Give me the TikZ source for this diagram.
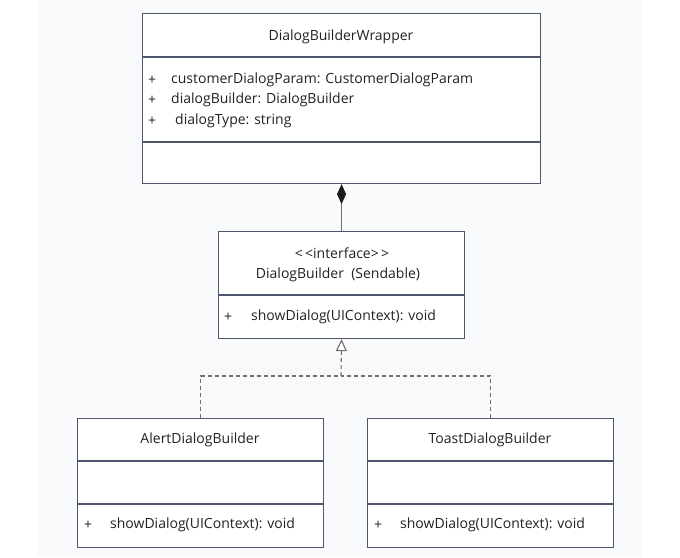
\documentclass[tikz,border=0pt]{standalone}
\usepackage{fontspec}
\setmainfont{Open Sans}
\usetikzlibrary{arrows.meta}
\definecolor{bg}{HTML}{F9FAFC}
\definecolor{boxline}{HTML}{50556E}
\definecolor{conncol}{HTML}{707070}
\definecolor{txtcol}{HTML}{222222}
\definecolor{tipcol}{HTML}{1A1A1A}
\tikzset{
  umlbox/.style={draw=boxline, fill=white, line width=1.1pt, rectangle, anchor=north west, inner sep=0pt},
  divider/.style={draw=boxline, line width=1.1pt},
  txt/.style={text=txtcol, inner sep=0pt, font=\fontsize{14}{16}\selectfont},
  lefttxt/.style={txt, anchor=west},
  conn/.style={draw=conncol, line width=1.1pt},
  realize/.style={conn, dash pattern=on 4pt off 3pt},
}
\begin{document}
\begin{tikzpicture}[x=1pt,y=-1pt]
\useasboundingbox (0,0) rectangle (680,557);
\fill[bg] (37,0) rectangle (642,557);

% DialogBuilderWrapper
\node[umlbox, minimum width=398, minimum height=170] (wrap) at (142,13) {};
\draw[divider] (wrap.west |- 0,57) -- (wrap.east |- 0,57);
\draw[divider] (wrap.west |- 0,142) -- (wrap.east |- 0,142);
\node[txt] (wraptitle) at (341,37) {DialogBuilderWrapper};
\node[lefttxt] (wp1) at (148,80) {+};
\node[lefttxt] (wa1) at (171,80) {customerDialogParam: CustomerDialogParam};
\node[lefttxt] (wp2) at (148,100) {+};
\node[lefttxt] (wa2) at (171,100) {dialogBuilder: DialogBuilder};
\node[lefttxt] (wp3) at (148,121) {+};
\node[lefttxt] (wa3) at (175,121) {dialogType: string};

% DialogBuilder interface
\node[umlbox, minimum width=246, minimum height=107] (iface) at (218,231) {};
\draw[divider] (iface.west |- 0,295) -- (iface.east |- 0,295);
\node[txt] (ifstereo) at (342,253) {<\,<interface>\,>};
\node[txt] (ifname) at (338,275) {DialogBuilder\ \ (Sendable)};
\node[lefttxt] (ifp) at (224,317) {+};
\node[lefttxt] (ifm) at (251,317) {showDialog(UIContext): void};

% AlertDialogBuilder
\node[umlbox, minimum width=246, minimum height=129] (alert) at (77,418) {};
\draw[divider] (alert.west |- 0,461) -- (alert.east |- 0,461);
\draw[divider] (alert.west |- 0,504) -- (alert.east |- 0,504);
\node[txt] (alerttitle) at (200,440) {AlertDialogBuilder};
\node[lefttxt] (ap) at (84,525) {+};
\node[lefttxt] (am) at (110,525) {showDialog(UIContext): void};

% ToastDialogBuilder
\node[umlbox, minimum width=246, minimum height=129] (toast) at (367,418) {};
\draw[divider] (toast.west |- 0,461) -- (toast.east |- 0,461);
\draw[divider] (toast.west |- 0,504) -- (toast.east |- 0,504);
\node[txt] (toasttitle) at (490,440) {ToastDialogBuilder};
\node[lefttxt] (tp) at (374,525) {+};
\node[lefttxt] (tm) at (400,525) {showDialog(UIContext): void};

% composition
\draw[conn, {Diamond[width=9pt,length=20pt,fill=tipcol,color=tipcol]}-] (wrap.south) -- (iface.north);

% realization
\coordinate (jct) at (341,376);
\draw[realize] (alert.north) |- (jct);
\draw[realize] (toast.north) |- (jct);
\draw[realize, -{Triangle[open,width=11pt,length=12pt,fill=white,color=conncol]}] (jct) -- (iface.south);
\end{tikzpicture}
\end{document}
